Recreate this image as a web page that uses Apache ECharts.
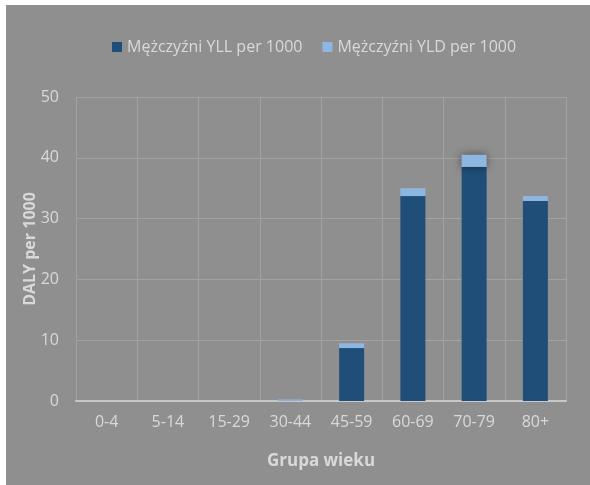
<!DOCTYPE html>
<html><head><meta charset="utf-8">
<script src="https://cdn.jsdelivr.net/npm/echarts@6/dist/echarts.min.js"></script>
<style>
html,body{margin:0;padding:0;background:#fff;width:590px;height:485px;overflow:hidden}
#c{position:absolute;left:6px;top:5px;width:584px;height:480px}
</style></head><body>
<div id="c"></div>
<script>
const categories = ['0-4','5-14','15-29','30-44','45-59','60-69','70-79','80+'];
const yllValues = [0, 0, 0, 0.05, 8.7, 33.7, 38.5, 32.9];
const yldValues = [0, 0, 0, 0.2, 0.8, 1.3, 2.0, 0.8];
const seriesNames = ['Mężczyźni YLL per 1000', 'Mężczyźni YLD per 1000'];
const yTicks = [0, 10, 20, 30, 40, 50];

const txt = '#d9d9d9';
const font = '"Open Sans", sans-serif';
const chart = echarts.init(document.getElementById('c'));
chart.setOption({
  backgroundColor: '#8f8f8f',
  textStyle: { fontFamily: font },
  legend: {
    top: 29, left: 101, itemWidth: 10, itemHeight: 10, itemGap: 20,
    icon: 'rect',
    textStyle: { color: txt, fontSize: 16, fontFamily: font },
    data: seriesNames
  },
  grid: { left: 70, right: 24, top: 92, bottom: 84 },
  xAxis: {
    type: 'category', data: categories,
    name: 'Grupa wieku', nameLocation: 'middle', nameGap: 52,
    nameTextStyle: { color: txt, fontSize: 17, fontWeight: 'bold', fontFamily: font },
    axisLine: { lineStyle: { color: '#c8c8c8', width: 2 } },
    axisTick: { show: false },
    axisLabel: { color: txt, fontSize: 16, margin: 13, fontFamily: font },
    splitLine: { show: true, lineStyle: { color: '#a2a2a2', width: 1 } }
  },
  yAxis: {
    type: 'value', min: yTicks[0], max: yTicks[yTicks.length-1], interval: 10,
    name: 'DALY per 1000', nameLocation: 'middle', nameGap: 38, nameRotate: 90,
    nameMoveOverlap: false,
    nameTextStyle: { color: txt, fontSize: 16, fontWeight: 'bold', fontFamily: font },
    axisLine: { show: true, lineStyle: { color: '#a2a2a2' } },
    axisTick: { show: false },
    axisLabel: { color: txt, fontSize: 16, margin: 17, fontFamily: font },
    splitLine: { lineStyle: { color: '#a2a2a2', width: 1 } }
  },
  series: [
    { name: seriesNames[0], type: 'bar', stack: 'a', barWidth: 25, data: yllValues,
      itemStyle: { color: '#1f4e79' } },
    { name: seriesNames[1], type: 'bar', stack: 'a', barWidth: 25,
      data: yldValues.map((v, i) => i === 6 ? { value: v, itemStyle: { shadowBlur: 8, shadowColor: 'rgba(0,0,0,0.5)' } } : v),
      itemStyle: { color: '#8db6e0' } }
  ]
});
</script>
</body></html>
